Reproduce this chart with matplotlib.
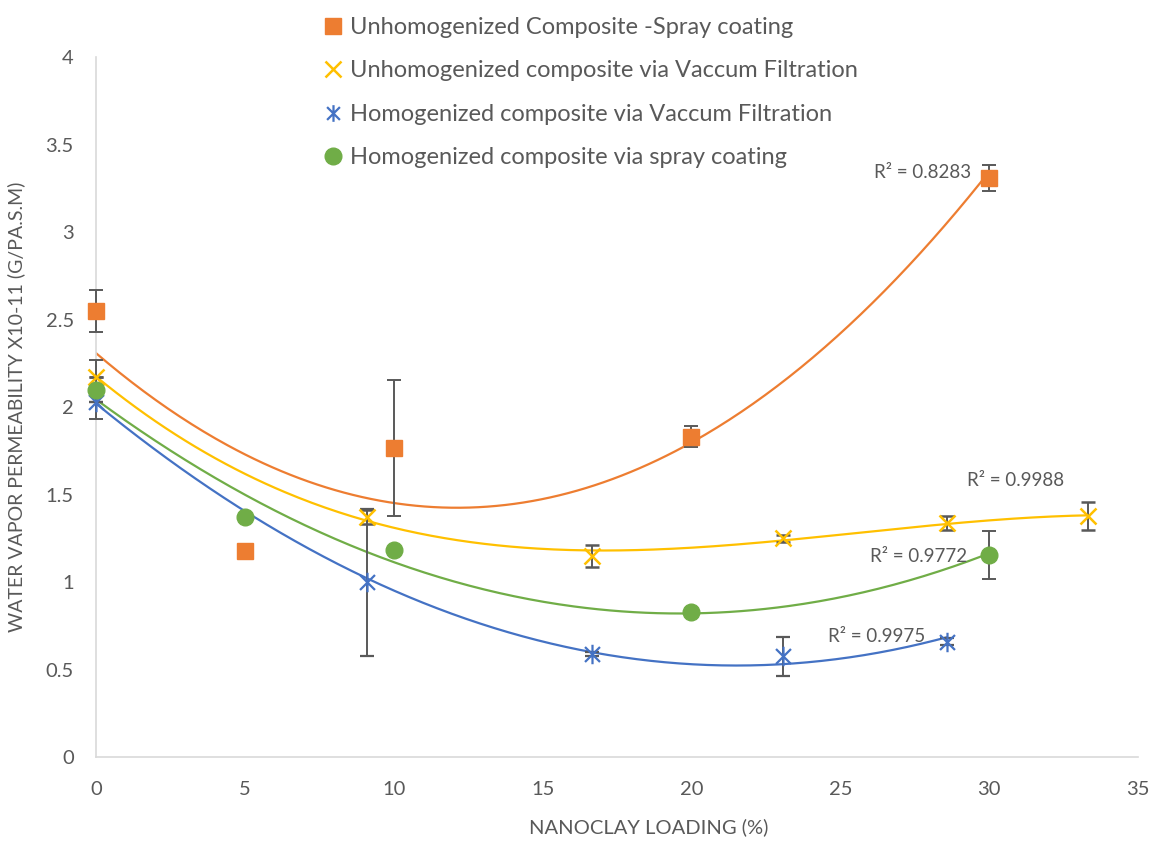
import numpy as np
import matplotlib
matplotlib.use("Agg")
import matplotlib.pyplot as plt
from matplotlib.path import Path
from matplotlib.lines import Line2D
from matplotlib.ticker import FuncFormatter

plt.rcParams['font.family'] = ['Lato', 'DejaVu Sans']

# data
x_spray = [0, 5, 10, 20, 30]
x_vac = [0, 9.09, 16.67, 23.08, 28.57, 33.33]

unhom_spray = [2.55, 1.175, 1.765, 1.83, 3.31]
unhom_spray_err = [0.12, 0.0, 0.39, 0.06, 0.075]

unhom_vac = [2.17, 1.37, 1.15, 1.25, 1.34, 1.375]
unhom_vac_err = [0.0, 0.04, 0.063, 0.02, 0.04, 0.08]

hom_vac = [2.03, 1.0, 0.59, 0.575, 0.66]
hom_vac_err = [0.0, 0.42, 0.01, 0.113, 0.02]

hom_spray = [2.1, 1.37, 1.185, 0.83, 1.155]
hom_spray_err = [0.17, 0.0, 0.0, 0.0, 0.135]

labels = ["Unhomogenized Composite -Spray coating",
          "Unhomogenized composite via Vaccum Filtration",
          "Homogenized composite via Vaccum Filtration",
          "Homogenized composite via spray coating"]
r2_labels = ["R² = 0.8283", "R² = 0.9988", "R² = 0.9975", "R² = 0.9772"]

c_orange = "#ED7D31"
c_yellow = "#FFC000"
c_blue = "#4472C4"
c_green = "#70AD47"
grey = "#595959"

# excel style star marker: x with a vertical bar
star = Path([(-1, -1), (1, 1), (-1, 1), (1, -1), (0, -1.3), (0, 1.3)],
            [Path.MOVETO, Path.LINETO] * 3)

fig = plt.figure(figsize=(11.54, 8.46), dpi=100)
ax = fig.add_axes([0.0832, 0.1052, 0.9029, 0.8274])


def trend(xs, ys, deg, color):
    p = np.polyfit(xs, ys, deg)
    xx = np.linspace(min(xs), max(xs), 300)
    ax.plot(xx, np.polyval(p, xx), color=color, lw=1.6, zorder=2)


trend(x_spray, unhom_spray, 2, c_orange)
trend(x_vac, unhom_vac, 3, c_yellow)
trend(x_vac[:5], hom_vac, 2, c_blue)
trend(x_spray, hom_spray, 2, c_green)

ebar = dict(ecolor=grey, elinewidth=1.4, capsize=5, capthick=1.4, ls='none', zorder=3)
conts = [
    ax.errorbar(x_spray, unhom_spray, yerr=unhom_spray_err, marker='s', ms=12,
                color=c_orange, **ebar),
    ax.errorbar(x_vac, unhom_vac, yerr=unhom_vac_err, marker='x', ms=12, mew=1.8,
                color=c_yellow, **ebar),
    ax.errorbar(x_vac[:5], hom_vac, yerr=hom_vac_err, marker=star, ms=14, mew=1.6,
                color=c_blue, mfc='none', mec=c_blue, **ebar),
    ax.errorbar(x_spray, hom_spray, yerr=hom_spray_err, marker='o', ms=12,
                color=c_green, **ebar),
]
for c in conts:
    for art in c.get_children():
        art.set_clip_on(False)

# R squared labels
r2_fs = 13.5
ax.text(29.4, 3.34, r2_labels[0], ha='right', va='center', fontsize=r2_fs, color=grey)
ax.text(29.25, 1.58, r2_labels[1], ha='left', va='center', fontsize=r2_fs, color=grey)
ax.text(24.6, 0.69, r2_labels[2], ha='left', va='center', fontsize=r2_fs, color=grey)
ax.text(26.0, 1.145, r2_labels[3], ha='left', va='center', fontsize=r2_fs, color=grey)

ax.set_xlim(0, 35)
ax.set_ylim(0, 4)
ax.set_xticks(np.arange(0, 36, 5))
ax.set_yticks(np.arange(0, 4.01, 0.5))
ax.yaxis.set_major_formatter(FuncFormatter(lambda v, pos: f"{v:g}"))
ax.tick_params(length=0, labelsize=14.5, labelcolor=grey)
ax.tick_params(axis='y', pad=16)
ax.tick_params(axis='x', pad=17)
for side in ['top', 'right']:
    ax.spines[side].set_visible(False)
for side in ['left', 'bottom']:
    ax.spines[side].set_color('#D9D9D9')
    ax.spines[side].set_linewidth(1.2)

ax.set_xlabel("NANOCLAY LOADING (%)", fontsize=14.5, color=grey)
ax.xaxis.set_label_coords(0.53, -0.087)
ax.set_ylabel("WATER VAPOR PERMEABILITY X10-11 (G/PA.S.M)", fontsize=14,
              color=grey)
ax.yaxis.set_label_coords(-0.068, 0.5)

handles = [
    Line2D([], [], ls='none', marker='s', ms=12, color=c_orange),
    Line2D([], [], ls='none', marker='x', ms=11, mew=1.8, color=c_yellow),
    Line2D([], [], ls='none', marker=star, ms=12, mew=1.6, mfc='none', mec=c_blue),
    Line2D([], [], ls='none', marker='o', ms=12, color=c_green),
]
leg = fig.legend(handles, labels, loc='upper left', bbox_to_anchor=(0.262, 1.005),
                 frameon=False, fontsize=17, handlelength=0.8, handletextpad=0.3,
                 labelspacing=0.95, labelcolor=grey)

fig.savefig("out.png", dpi=100)
